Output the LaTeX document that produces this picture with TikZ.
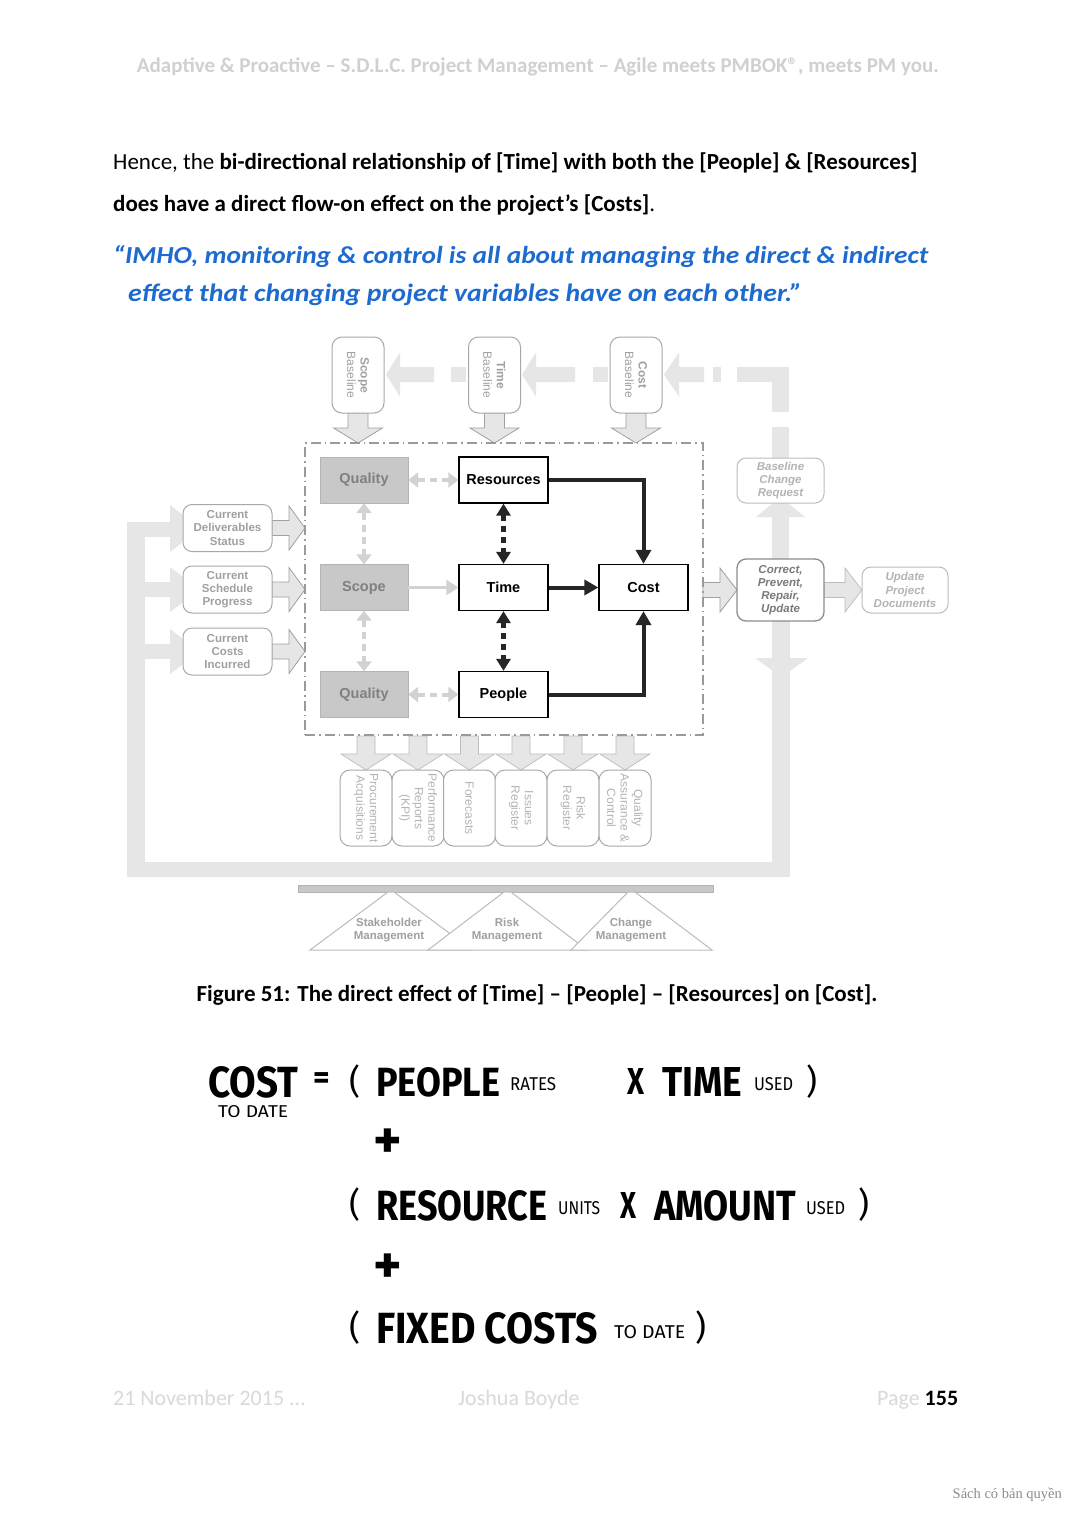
\documentclass[tikz,border=0pt]{standalone}
\usepackage{fontspec}
\setmainfont{Carlito}
\newfontfamily\arialf{Liberation Sans}
\newfontfamily\serifw{Liberation Serif}
\newfontfamily\formf{Fira Sans}
\usetikzlibrary{arrows.meta}
\definecolor{arrfill}{HTML}{E6E6E6}
\definecolor{arrline}{HTML}{A0A0A0}
\definecolor{hdrc}{HTML}{D0D0D0}
\definecolor{quotec}{HTML}{1E6BD0}
\definecolor{gboxf}{HTML}{C8C8C8}
\definecolor{gboxd}{HTML}{B4B4B4}
\definecolor{gtxt}{HTML}{808080}
\definecolor{sboxd}{HTML}{A8A8A8}
\definecolor{stxt}{HTML}{A0A0A0}
\definecolor{ltxt}{HTML}{B4B4B4}
\definecolor{ldraw}{HTML}{BCBCBC}
\definecolor{dtxt}{HTML}{7A7A7A}
\definecolor{ddraw}{HTML}{8C8C8C}
\definecolor{gconn}{HTML}{D2D2D2}
\definecolor{framec}{HTML}{9A9A9A}
\definecolor{ftrc}{HTML}{D9D9D9}
\newcommand\fsz[2]{\fontsize{#1}{#2}\selectfont}
\newcommand\fw[3]{\resizebox{#1pt}{#2pt}{\formf\bfseries #3}}
\newcommand\fl[3]{\resizebox{#1pt}{#2pt}{\formf #3}}
% right-pointing block arrow: xstart, xtip, ycenter, shafthalf, headhalf, headlen, style
\newcommand\barR[7]{\path[#7] (#1,#3-#4) -- (#2-#6,#3-#4) -- (#2-#6,#3-#5) -- (#2,#3) -- (#2-#6,#3+#5) -- (#2-#6,#3+#4) -- (#1,#3+#4) -- cycle;}
\newcommand\barL[7]{\path[#7] (#1,#3-#4) -- (#2+#6,#3-#4) -- (#2+#6,#3-#5) -- (#2,#3) -- (#2+#6,#3+#5) -- (#2+#6,#3+#4) -- (#1,#3+#4) -- cycle;}
% down-pointing: xcenter, ystart, ytip, shafthalf, headhalf, headlen, style
\newcommand\barD[7]{\path[#7] (#1-#4,#2) -- (#1-#4,#3-#6) -- (#1-#5,#3-#6) -- (#1,#3) -- (#1+#5,#3-#6) -- (#1+#4,#3-#6) -- (#1+#4,#2) -- cycle;}
\begin{document}
\begin{tikzpicture}[x=1pt,y=-1pt,
  gbox/.style={draw=gboxd, fill=gboxf, minimum width=88pt, minimum height=46pt, text=gtxt, font=\arialf\bfseries\fsz{14.5}{17}, inner sep=0pt},
  wbox/.style={draw=black, line width=1.3pt, fill=white, minimum width=89pt, minimum height=46pt, font=\arialf\bfseries\fsz{14.5}{17}, inner sep=0pt},
  sbox/.style={draw=sboxd, rounded corners=9pt, fill=white, line width=1pt, text=stxt, font=\arialf\bfseries\fsz{11.5}{13.2}, align=center, inner sep=0pt, minimum width=89pt, minimum height=47pt},
  rbox/.style={draw=sboxd, rounded corners=10pt, fill=white, line width=1pt, rotate=-90, minimum width=76pt, minimum height=52pt, text=ltxt, font=\arialf\fsz{12}{13.5}, align=center, inner sep=0pt},
  lbox/.style={sbox, draw=ldraw, text=ltxt, font=\arialf\bfseries\itshape\fsz{11.5}{13.2}},
  dbox/.style={sbox, draw=ddraw, line width=1.3pt, text=dtxt, font=\arialf\bfseries\itshape\fsz{11.5}{13.2}},
  flat/.style={fill=arrfill},
  outl/.style={fill=arrfill, draw=arrline, line width=0.8pt},
  outlf/.style={fill=arrfill, draw=ldraw, line width=0.7pt},
  gdash/.style={draw=gconn, line width=4pt, dash pattern=on 7pt off 5pt, {Triangle[width=15pt,length=10pt]}-{Triangle[width=15pt,length=10pt]}},
  gsolid/.style={draw=gconn, line width=3pt, -{Triangle[width=15pt,length=12pt]}},
  kdot/.style={draw=black!85, line width=4.5pt, dash pattern=on 6pt off 5pt, {Triangle[width=14pt,length=12pt]}-{Triangle[width=14pt,length=12pt]}},
  ksolid/.style={draw=black!85, line width=4pt, -{Triangle[width=15pt,length=14pt]}},
  tri/.style={draw=ldraw, fill=white, line width=1pt},
  tlab/.style={text=stxt, font=\arialf\bfseries\fsz{11.5}{13.5}, align=center},
  body/.style={anchor=base west, inner sep=0pt, font=\fsz{23}{27}},
  fsm/.style={anchor=base west, inner sep=0pt},
  par/.style={font=\formf\fsz{34}{34}, inner sep=0pt},
  plus/.style={font=\formf\bfseries\fsz{54}{54}, inner sep=0pt}
]
\fill[white] (0,0) rectangle (1077,1521);
\useasboundingbox (0,0) rectangle (1077,1521);

% ---------- page text ----------
\node[anchor=base, inner sep=0pt, text=hdrc, font=\fsz{21}{25}\bfseries] (hdr) at (538,72)
  {Adaptive \& Proactive – S.D.L.C. Project Management – Agile meets PMBOK®, meets PM you.};
\node[body] (p1) at (113,169) {Hence, the \textbf{bi-directional relationship of [Time] with both the [People] \& [Resources]}};
\node[body] (p2) at (113,211) {\textbf{does have a direct flow-on effect on the project’s [Costs]}.};
\node[fsm, text=quotec] (q1) at (113,263) {\resizebox{815pt}{18pt}{\bfseries\itshape “IMHO, monitoring \& control is all about managing the direct \& indirect}};
\node[fsm, text=quotec] (q2) at (128,301) {\resizebox{674pt}{18pt}{\bfseries\itshape effect that changing project variables have on each other.”}};

% ---------- feedback loop (flat grey) ----------
\fill[arrfill] (127,522) rectangle (145,877);
\fill[arrfill] (127,862) rectangle (790,877);
\fill[arrfill] (772,621) rectangle (790,877);
\fill[arrfill] (755,658) -- (808,658) -- (790,671) -- (773,671) -- cycle;
% branches to the left status boxes
\fill[arrfill] (127,522) rectangle (172,537);
\fill[arrfill] (170,505) -- (170,552) -- (200,528.5) -- cycle;
\fill[arrfill] (145,582) rectangle (172,597);
\fill[arrfill] (170,567) -- (170,612) -- (200,589.5) -- cycle;
\fill[arrfill] (145,644) rectangle (172,659);
\fill[arrfill] (170,629) -- (170,674) -- (200,651.5) -- cycle;
% up arrow Correct -> Baseline change request
\fill[arrfill] (772,515) rectangle (789,560);
\fill[arrfill] (756,517) -- (805,517) -- (780.5,497) -- cycle;
% top broken feed back to the baselines
\fill[arrfill] (772,427) rectangle (789,460);
\fill[arrfill] (772,367) rectangle (789,412);
\fill[arrfill] (737,367) rectangle (789,382);
\fill[arrfill] (713,367) rectangle (721,382);
\barL{704}{664}{374.5}{7.5}{22}{15}{flat}
\fill[arrfill] (593,367) rectangle (608,382);
\barL{575}{522}{374.5}{7.5}{22}{14}{flat}
\fill[arrfill] (451,367) rectangle (466,382);
\barL{434}{386}{374.5}{7.5}{22}{14}{flat}

% ---------- outlined block arrows ----------
\barR{272}{305}{528}{7.5}{22}{16}{outl}
\barR{272}{305}{589.5}{7.5}{22}{16}{outl}
\barR{272}{305}{651.5}{7.5}{22}{16}{outl}
\barR{703}{737}{590}{7.5}{22}{17}{outl}
\barR{824}{862}{590}{7.5}{22}{17}{outlf}
\barD{358}{413}{443}{10}{24.5}{15}{outl}
\barD{494.5}{413}{443}{10}{24.5}{15}{outl}
\barD{636}{413}{443}{10}{24.5}{15}{outl}
\foreach \cx in {366,418,469.5,521,573,625} {\barD{\cx}{736}{770}{9}{25}{16}{outlf}}

% ---------- frame ----------
\node[draw=framec, line width=1.1pt, dash pattern=on 10pt off 4pt on 1.5pt off 4pt,
      minimum width=398pt, minimum height=292pt, inner sep=0pt] (frame) at (504,589) {};

% ---------- baseline boxes ----------
\node[rbox, text=stxt] (scopeb) at (358,375) {\textbf{Scope}\\Baseline};
\node[rbox, text=stxt] (timeb) at (494.5,375) {\textbf{Time}\\Baseline};
\node[rbox, text=stxt] (costb) at (636,375) {\textbf{Cost}\\Baseline};

% ---------- status boxes ----------
\node[sbox] (cds) at (227.5,528) {Current\\Deliverables\\Status};
\node[sbox] (csp) at (227.5,589.5) {Current\\Schedule\\Progress};
\node[sbox] (cci) at (227.5,651.5) {Current\\Costs\\Incurred};

% ---------- right boxes ----------
\node[lbox, minimum height=45pt, minimum width=87pt] (bcr) at (780.5,480.5) {Baseline\\Change\\Request};
\node[dbox, minimum height=62pt, minimum width=87pt] (cpru) at (780.5,590) {Correct,\\Prevent,\\Repair,\\Update};
\node[lbox, minimum height=46pt, minimum width=86pt] (upd) at (905,590) {Update\\Project\\Documents};

% ---------- core boxes ----------
\node[gbox] (qtop) at (364,480) {Quality};
\node[wbox] (res) at (503.5,480) {Resources};
\node[gbox] (scope) at (364,587.5) {Scope};
\node[wbox] (time) at (503.5,587.5) {Time};
\node[wbox] (cost) at (643.5,587.5) {Cost};
\node[gbox] (qbot) at (364,694.5) {Quality};
\node[wbox] (people) at (503.5,694.5) {People};

\draw[gdash] (qtop) -- (res);
\draw[gdash] (qtop) -- (scope);
\draw[gdash] (scope) -- (qbot);
\draw[gdash] (qbot) -- (people);
\draw[gsolid] (scope) -- (time);
\draw[kdot] (res) -- (time);
\draw[kdot] (time) -- (people);
\draw[ksolid] (time) -- (cost);
\draw[ksolid] (res.east) -| (cost.north);
\draw[ksolid] (people.east) -| (cost.south);

% ---------- document boxes ----------
\node[rbox] (proc) at (366,808) {Procurement\\Acquisitions};
\node[rbox] (perf) at (418,808) {Performance\\Reports\\(KPI)};
\node[rbox] (fore) at (469.5,808) {Forecasts};
\node[rbox] (issu) at (521,808) {Issues\\Register};
\node[rbox] (risk) at (573,808) {Risk\\Register};
\node[rbox] (qual) at (625,808) {Quality\\Assurance \&\\Control};

% ---------- beam and triangles ----------
\draw[fill=gboxf, draw=gboxd, line width=1pt] (298,885) rectangle (713,892);
\draw[tri] (310,950) -- (388,892) -- (394,892) -- (472,950) -- cycle;
\draw[tri] (428,950) -- (504,892) -- (511,892) -- (587,950) -- cycle;
\draw[tri] (571,950) -- (628,892) -- (635,892) -- (712,950) -- cycle;
\node[tlab] (stk) at (389,930) {Stakeholder\\Management};
\node[tlab] (rsk) at (507,930) {Risk\\Management};
\node[tlab] (chg) at (631,930) {Change\\Management};

% ---------- caption ----------
\node[anchor=base, inner sep=0pt, font=\fsz{23}{27}\bfseries] (cap) at (537,1001)
  {Figure 51: The direct effect of [Time] – [People] – [Resources] on [Cost].};

% ---------- formula ----------
\node[fsm] (f1) at (208,1097) {\fw{90}{31}{COST}\llap{\raisebox{-20pt}[0pt][0pt]{\fl{70}{12}{TO DATE}}\hspace{10pt}}};
\node[font=\formf\bfseries\fsz{32}{32}, inner sep=0pt] (f3) at (322,1081) {=};
\node[par] (f4) at (355,1082) {(};
\node[fsm] (f5) at (376,1096) {\fw{124}{29}{PEOPLE}};
\node[fsm] (f6) at (510,1090) {\fl{46}{13}{RATES}};
\node[fsm] (f7) at (627,1094) {\fw{17}{26}{X}};
\node[fsm] (f8) at (662,1096) {\fw{80}{29}{TIME}};
\node[fsm] (f9) at (754,1090) {\fl{39}{13}{USED}};
\node[par] (f10) at (812,1082) {)};
\node[plus] (f11) at (388,1144) {+};
\node[par] (g1) at (355,1205) {(};
\node[fsm] (g2) at (376,1220) {\fw{171}{30}{RESOURCE}};
\node[fsm] (g3) at (558,1214) {\fl{42}{13}{UNITS}};
\node[fsm] (g4) at (620,1218) {\fw{16}{26}{X}};
\node[fsm] (g5) at (654,1220) {\fw{142}{30}{AMOUNT}};
\node[fsm] (g6) at (806,1214) {\fl{39}{13}{USED}};
\node[par] (g7) at (864,1205) {)};
\node[plus] (g8) at (388,1269) {+};
\node[par] (h1) at (355,1328) {(};
\node[fsm] (h2) at (376,1343) {\fw{222}{31}{FIXED COSTS}};
\node[fsm] (h3) at (614,1338) {\fl{71}{13}{TO DATE}};
\node[par] (h4) at (701,1328) {)};

% ---------- footer ----------
\node[fsm, text=ftrc, font=\fsz{22}{26}] (d1) at (113,1405) {21 November 2015 ...};
\node[fsm, text=ftrc, font=\fsz{22}{26}] (d2) at (458,1405) {Joshua Boyde};
\node[fsm, font=\fsz{22}{26}] (d3) at (877,1405) {\textcolor{ftrc}{Page} \textbf{155}};
\node[anchor=base east, inner sep=0pt, text=black!45, font=\serifw\fsz{14.5}{17}] (wm) at (1062,1498) {Sách có bản quyền};
\end{tikzpicture}
\end{document}
